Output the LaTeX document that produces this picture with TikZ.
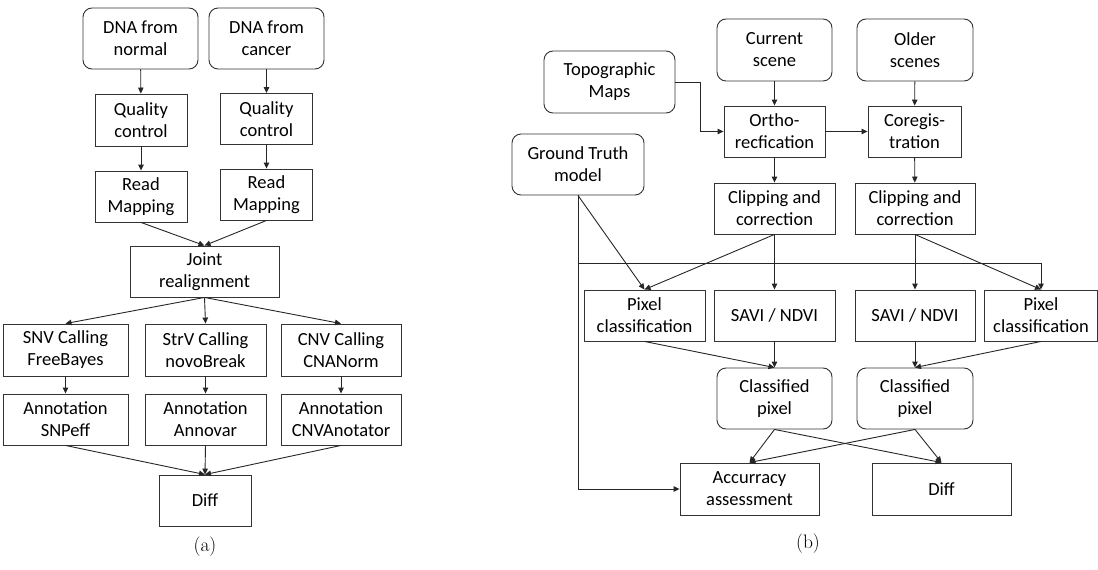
\documentclass[tikz,border=0pt]{standalone}
\usepackage{fontspec}
\newfontfamily\boxfont{Carlito}
\usetikzlibrary{positioning, arrows.meta}

\tikzset{
  flow/.style={draw=black!80, line width=0.9pt, align=center, inner sep=0pt,
    font=\boxfont\fontsize{18.5}{22}\selectfont},
  procbox/.style={flow},
  databox/.style={flow, rounded corners=9pt},
  link/.style={draw=black!85, line width=0.9pt, -{Triangle[length=6pt,width=5.5pt]}},
  subcap/.style={font=\fontsize{19.5}{22}\selectfont}
}

\begin{document}
\begin{tikzpicture}[x=1pt, y=-1pt]
  \useasboundingbox (0,0) rectangle (1098,570);

  % (a) sequencing pipeline
  \node[databox, minimum width=115pt, minimum height=61pt] (dnanormal) at (140.5,38.5) {DNA from\\normal};
  \node[databox, minimum width=115pt, minimum height=61pt] (dnacancer) at (266.5,38.5) {DNA from\\cancer};
  \node[procbox, minimum width=92pt, minimum height=52pt] (qcnormal) at (141,120) {Quality\\control};
  \node[procbox, minimum width=92pt, minimum height=51pt] (qccancer) at (266.5,119) {Quality\\control};
  \node[procbox, minimum width=92pt, minimum height=51pt] (rmnormal) at (141,196.5) {Read\\Mapping};
  \node[procbox, minimum width=92pt, minimum height=51pt] (rmcancer) at (266.5,194.5) {Read\\Mapping};
  \node[procbox, minimum width=149pt, minimum height=51pt] (joint) at (204.5,271.5) {Joint\\realignment};
  \node[procbox, minimum width=125pt, minimum height=52pt] (snv) at (65.5,350) {SNV Calling\\FreeBayes};
  \node[procbox, minimum width=121pt, minimum height=52pt] (strv) at (205.5,350) {StrV Calling\\novoBreak};
  \node[procbox, minimum width=120pt, minimum height=52pt] (cnv) at (341,350) {CNV Calling\\CNANorm};
  \node[procbox, minimum width=125pt, minimum height=51pt] (annsnv) at (65.5,419.5) {Annotation\\SNPeff};
  \node[procbox, minimum width=121pt, minimum height=51pt] (annstrv) at (205.5,419.5) {Annotation\\Annovar};
  \node[procbox, minimum width=120pt, minimum height=51pt] (anncnv) at (341,419.5) {Annotation\\CNVAnotator};
  \node[procbox, minimum width=92pt, minimum height=51pt] (diffa) at (205,500.5) {Diff};
  \node[subcap] (capa) at (205,547) {(a)};

  \draw[link] (dnanormal) -- (qcnormal);
  \draw[link] (dnacancer) -- (qccancer);
  \draw[link] (qcnormal) -- (rmnormal);
  \draw[link] (qccancer) -- (rmcancer);
  \draw[link] (rmnormal.south) -- (joint.north);
  \draw[link] (rmcancer.south) -- (joint.north);
  \draw[link] (joint.south) -- (snv.north);
  \draw[link] (joint.south) -- (strv.north);
  \draw[link] (joint.south) -- (cnv.north);
  \draw[link] (snv) -- (annsnv);
  \draw[link] (strv) -- (annstrv);
  \draw[link] (cnv) -- (anncnv);
  \draw[link] (annsnv.south) -- (diffa.north);
  \draw[link] (annstrv.south) -- (diffa.north);
  \draw[link] (anncnv.south) -- (diffa.north);

  % (b) change detection pipeline
  \node[databox, minimum width=131pt, minimum height=62pt] (topo) at (609.5,82) {Topographic\\Maps};
  \node[databox, minimum width=115pt, minimum height=62pt] (current) at (774.5,50) {Current\\scene};
  \node[databox, minimum width=116pt, minimum height=62pt] (older) at (915,50) {Older\\scenes};
  \node[procbox, minimum width=101pt, minimum height=51pt] (ortho) at (774.5,131.5) {Ortho-\\recfication};
  \node[procbox, minimum width=93pt, minimum height=51pt] (coreg) at (914.5,131.5) {Coregis-\\tration};
  \node[databox, minimum width=132pt, minimum height=61pt] (truth) at (578,164.5) {Ground Truth\\model};
  \node[procbox, minimum width=121pt, minimum height=51pt] (clipcur) at (774.5,208.5) {Clipping and\\correction};
  \node[procbox, minimum width=120pt, minimum height=51pt] (clipold) at (915,208.5) {Clipping and\\correction};
  \node[procbox, minimum width=121pt, minimum height=51pt] (pixcur) at (644.5,315.5) {Pixel\\classification};
  \node[procbox, minimum width=121pt, minimum height=51pt] (savicur) at (774.5,315.5) {SAVI / NDVI};
  \node[procbox, minimum width=120pt, minimum height=51pt] (saviold) at (915,315.5) {SAVI / NDVI};
  \node[procbox, minimum width=113pt, minimum height=51pt] (pixold) at (1041,315.5) {Pixel\\classification};
  \node[databox, minimum width=115pt, minimum height=61pt] (clscur) at (774.5,398.5) {Classified\\pixel};
  \node[databox, minimum width=116pt, minimum height=61pt] (clsold) at (915,398.5) {Classified\\pixel};
  \node[procbox, minimum width=139pt, minimum height=52pt] (accuracy) at (749.5,489) {Accurracy\\assessment};
  \node[procbox, minimum width=139pt, minimum height=52pt] (diffb) at (941.5,489) {Diff};
  \node[subcap] (capb) at (808,544) {(b)};
  \coordinate (split) at (578,263);

  \draw[link] (current) -- (ortho);
  \draw[link] (older) -- (coreg);
  \draw[link] (topo.east) -- ++(25,0) |- (ortho.west);
  \draw[link] (ortho) -- (coreg);
  \draw[link] (ortho) -- (clipcur);
  \draw[link] (coreg) -- (clipold);
  \draw[link] (clipcur.south) -- (pixcur.north);
  \draw[link] (clipcur) -- (savicur);
  \draw[link] (clipold) -- (saviold);
  \draw[link] (clipold.south) -- (pixold.north);
  \draw[link] (truth.south) -- (pixcur.north);
  \draw[link] (truth.south) |- (accuracy.west);
  \draw[link] (split) -| (pixold.north);
  \draw[link] (pixcur.south) -- (clscur.north);
  \draw[link] (savicur) -- (clscur);
  \draw[link] (saviold) -- (clsold);
  \draw[link] (pixold.south) -- (clsold.north);
  \draw[link] (clscur.south) -- (accuracy.north);
  \draw[link] (clscur.south) -- (diffb.north);
  \draw[link] (clsold.south) -- (accuracy.north);
  \draw[link] (clsold.south) -- (diffb.north);
\end{tikzpicture}
\end{document}
